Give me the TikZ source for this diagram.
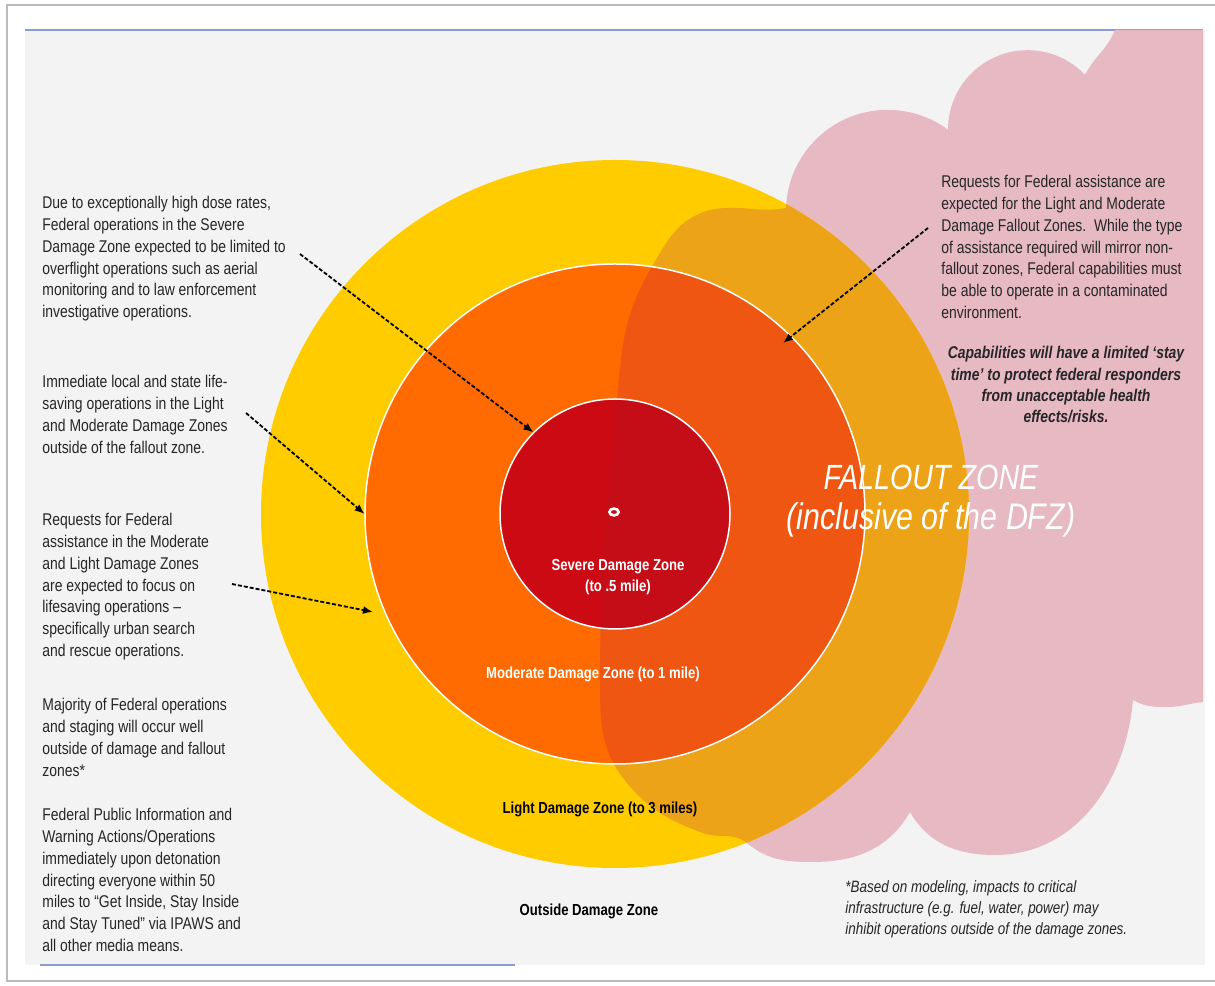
\documentclass[tikz,border=0pt]{standalone}
\usepackage{fontspec}
\setmainfont{Liberation Sans}[FakeStretch=0.82]
\usetikzlibrary{arrows.meta}

\definecolor{panelgray}{HTML}{F3F3F3}
\definecolor{framegray}{HTML}{BBBBBB}
\definecolor{rulerblue}{HTML}{8C9BD2}
\definecolor{falloutpink}{HTML}{E6B9C3}
\definecolor{lightzone}{HTML}{FFCC00}
\definecolor{lightfall}{HTML}{EDA318}
\definecolor{moderatezone}{HTML}{FF6B00}
\definecolor{moderatefall}{HTML}{EE5612}
\definecolor{severezone}{HTML}{CC0A14}
\definecolor{severefall}{HTML}{C50D18}
\definecolor{notegray}{HTML}{262626}

% outline of the fallout zone (ellipse lobe plus cloud)
\newcommand{\falloutzone}{(600,305) to[out=90,in=-95] (617,585)
  to[out=85,in=-120] (650,715) to[out=60,in=-165] (710,775)
  to[out=12,in=-170] (786,777)
  arc[start angle=178, end angle=53.6, radius=50.85pt]
  arc[start angle=180, end angle=43.7, radius=39.75pt]
  to[out=62,in=-112] (1115,955)
  -- (1203,955) -- (1203,283) to[out=-175,in=0] (1168,278)
  to[out=180,in=-30] (1133,285) to[out=-95,in=0] (995,130)
  to[out=180,in=-60] (910,173) to[out=-120,in=0] (812,123)
  to[out=180,in=-40] (747,142) to[out=140,in=-20] (703,152)
  to[out=160,in=-50] (627,202) to[out=130,in=-90] (600,305) -- cycle}

\begin{document}
\begin{tikzpicture}[x=0.5pt, y=0.5pt,
	zone/.style={shape=circle, inner sep=0pt},
	bodytext/.style={anchor=north west, inner sep=0pt, align=left, text=notegray,
		font=\fontsize{8.5}{10.9}\selectfont},
	zonelabel/.style={inner sep=0pt, align=center, font=\bfseries\fontsize{8}{10.5}\selectfont},
	pointer/.style={-{Latex[length=5pt,width=4pt]}, line width=0.9pt, dash pattern=on 2pt off 1pt}]
	
	\useasboundingbox (0,0) rectangle (1215,985);
	\fill[white] (0,0) rectangle (1215,985);
	\fill[panelgray] (25,20) rectangle (1205,955);
	\draw[framegray, line width=0.8pt] (1225,980) -- (7,980) -- (7,4) -- (1225,4);
	\draw[rulerblue, line width=1pt] (25,955) -- (1203,955);
	\draw[rulerblue, line width=1pt] (40,20) -- (515,20);
	
	\fill[falloutpink] \falloutzone;
	
	\node[zone, minimum size=354pt, fill=lightzone] (light) at (615,471) {};
	\begin{scope}
		\clip \falloutzone;
		\fill[lightfall] (light.center) circle[radius=177pt];
	\end{scope}
	
	\node[zone, minimum size=250pt, fill=moderatezone] (moderate) at (615,471) {};
	\begin{scope}
		\clip \falloutzone;
		\fill[moderatefall] (moderate.center) circle[radius=125pt];
	\end{scope}
	\draw[white, line width=0.75pt] (moderate.center) circle[radius=125pt];
	
	\node[zone, minimum size=115pt, fill=severezone] (severe) at (615,471) {};
	\begin{scope}
		\clip \falloutzone;
		\fill[severefall] (severe.center) circle[radius=57.5pt];
	\end{scope}
	\draw[white, line width=0.75pt] (severe.center) circle[radius=57.5pt];
	\draw[white, line width=1.3pt] (614,473) ellipse[x radius=2.3pt, y radius=1.7pt];
	
	\node[zonelabel, text=white] (severelbl) at (618,408) {Severe Damage Zone\\(to .5 mile)};
	\node[zonelabel, text=white] (moderatelbl) at (593,311) {Moderate Damage Zone (to 1 mile)};
	\node[zonelabel] (lightlbl) at (600,176) {Light Damage Zone (to 3 miles)};
	\node[zonelabel] (outsidelbl) at (589,74) {Outside Damage Zone};
	
	\node[inner sep=0pt, align=center, text=white, font=\itshape\fontsize{17.5}{20}\selectfont] (falloutlbl) at (931,484) {FALLOUT ZONE\\{\fontsize{18.5}{20}\selectfont(inclusive of the DFZ)}};
	
	\node[bodytext] (severenote) at (42,789) {Due to exceptionally high dose rates,\\Federal operations in the Severe\\Damage Zone expected to be limited to\\overflight operations such as aerial\\monitoring and to law enforcement\\investigative operations.};
	\node[bodytext] (lifesaving) at (42,610) {Immediate local and state life-\\saving operations in the Light\\and Moderate Damage Zones\\outside of the fallout zone.};
	\node[bodytext] (usar) at (42,472) {Requests for Federal\\assistance in the Moderate\\and Light Damage Zones\\are expected to focus on\\lifesaving operations –\\specifically urban search\\and rescue operations.};
	\node[bodytext] (staging) at (42,287) {Majority of Federal operations\\and staging will occur well\\outside of damage and fallout\\zones*};
	\node[bodytext] (warning) at (42,177) {Federal Public Information and\\Warning Actions/Operations\\immediately upon detonation\\directing everyone within 50\\miles to “Get Inside, Stay Inside\\and Stay Tuned” via IPAWS and\\all other media means.};
	
	\node[bodytext] (fedassist) at (941,810) {Requests for Federal assistance are\\expected for the Light and Moderate\\Damage Fallout Zones.\ \ While the type\\of assistance required will mirror non-\\fallout zones, Federal capabilities must\\be able to operate in a contaminated\\environment.};
	\node[bodytext, anchor=north, align=center, font=\bfseries\itshape\fontsize{8.5}{10.65}\selectfont] (staytime) at (1066,639) {Capabilities will have a limited ‘stay\\time’ to protect federal responders\\from unacceptable health\\effects/risks.};
	\node[bodytext, font=\itshape\fontsize{8.2}{10.5}\selectfont] (footnote) at (845,105) {*Based on modeling, impacts to critical\\infrastructure (e.g. fuel, water, power) may\\inhibit operations outside of the damage zones.};
	
	\coordinate (p1) at (300,731);
	\coordinate (p2) at (246,572);
	\coordinate (p3) at (232,401);
	\coordinate (q3) at (373,373);
	\coordinate (p4) at (928,757);
	\coordinate (q4) at (783,642);
	
	\path[pointer] (p1) edge (severe.135);
	\path[pointer] (p2) edge (moderate.180);
	\path[pointer] (p3) edge (q3);
	\path[pointer] (p4) edge (q4);
	
\end{tikzpicture}
\end{document}
